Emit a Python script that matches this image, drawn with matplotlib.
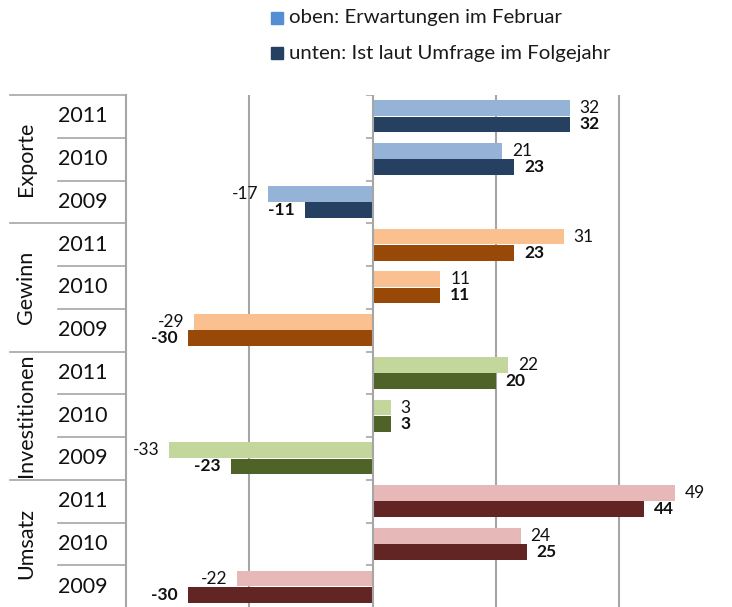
import matplotlib.pyplot as plt
from matplotlib.patches import Rectangle
from matplotlib.transforms import blended_transform_factory
import numpy as np

plt.rcParams['font.family'] = ['Lato', 'DejaVu Sans']

# Daten
gruppen = ['Exporte', 'Gewinn', 'Investitionen', 'Umsatz']
jahre = ['2011', '2010', '2009']
erwartung = [32, 21, -17, 31, 11, -29, 22, 3, -33, 49, 24, -22]
ist = [32, 23, -11, 23, 11, -30, 20, 3, -23, 44, 25, -30]
farben_hell = ['#95B3D7', '#FAC090', '#C3D69B', '#E6B9B8']
farben_dunkel = ['#254061', '#984807', '#4F6228', '#632523']

W, H = 732, 607
fig = plt.figure(figsize=(W / 100, H / 100), dpi=100)
ax = fig.add_axes([126 / W, -1 / H, (W - 126) / W, (608 - 95) / H])

n = len(erwartung)
y = np.arange(n)
hell = [farben_hell[i // 3] for i in range(n)]
dunkel = [farben_dunkel[i // 3] for i in range(n)]
h = 0.37
ax.barh(y - 0.19, erwartung, height=h, color=hell, zorder=3)
ax.barh(y + 0.19, ist, height=h, color=dunkel, zorder=3)

for i in range(n):
    for val, off, fw in [(erwartung[i], -0.19, 'normal'), (ist[i], 0.19, 'bold')]:
        dx = 7 if val >= 0 else -7
        ax.annotate(str(val), (val, y[i] + off), xytext=(dx, 0), textcoords='offset points',
                    ha='left' if val >= 0 else 'right', va='center',
                    fontsize=12.5, fontweight=fw, color='#111111')

ax.set_xlim(-40, 58.3)
ax.set_ylim(n - 0.5, -0.5)
grau = '#A6A6A6'
for gx in [-20, 20, 40]:
    ax.axvline(gx, color=grau, lw=1.5, zorder=1)
ax.axvline(0, color=grau, lw=1.5, zorder=4)
ax.hlines(np.arange(n + 1) - 0.5, -1.1, 0, color=grau, lw=1.2, zorder=4)

for s in ['top', 'right', 'bottom']:
    ax.spines[s].set_visible(False)
ax.spines['left'].set_color(grau)
ax.spines['left'].set_linewidth(1.5)
ax.set_xticks([])
ax.set_yticks([])

# Kategorien-Tabelle links
tr = blended_transform_factory(ax.transAxes, ax.transData)
x_gruppe = (10 - 126) / (W - 126)
x_jahr = (58 - 126) / (W - 126)
for b in range(n + 1):
    x0 = x_gruppe if b % 3 == 0 else x_jahr
    ax.plot([x0, 0], [b - 0.5, b - 0.5], color=grau, lw=1.2, transform=tr, clip_on=False)
for i in range(n):
    ax.text((83 - 126) / (W - 126), i, jahre[i % 3], transform=tr, ha='center', va='center',
            fontsize=15.5, color='#111111', clip_on=False)
for g, name in enumerate(gruppen):
    ax.text((26 - 126) / (W - 126), 3 * g + 1, name, transform=tr, ha='center', va='center',
            rotation=90, fontsize=15.5, color='#111111', clip_on=False)

# Legende
for ly, col, txt in [(18, '#558ED5', 'oben: Erwartungen im Februar'),
                     (53, '#254061', 'unten: Ist laut Umfrage im Folgejahr')]:
    fig.patches.append(Rectangle((271 / W, 1 - (ly + 6) / H), 12 / W, 12 / H,
                                 color=col, transform=fig.transFigure))
    fig.text(289 / W, 1 - ly / H, txt, ha='left', va='center', fontsize=14.7, color='#1a1a1a')

fig.savefig('out.png', dpi=100)
